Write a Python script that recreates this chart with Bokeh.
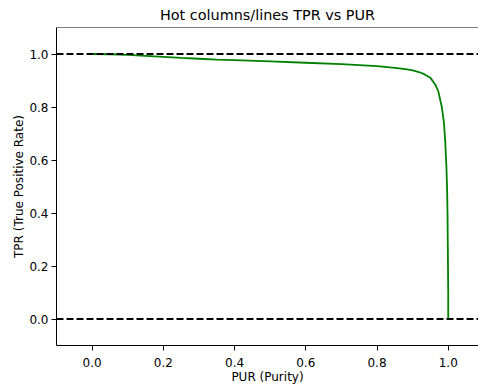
from bokeh.plotting import figure
from bokeh.models import Span, Range1d, FixedTicker
from bokeh.embed import file_html
from bokeh.resources import INLINE

# Data
pur = [0.0, 0.05, 0.10, 0.15, 0.20, 0.25, 0.30, 0.35, 0.40, 0.50, 0.60,
       0.70, 0.80, 0.85, 0.88, 0.90, 0.92, 0.935, 0.95, 0.963, 0.972, 0.982,
       0.988, 0.992, 0.995, 0.997, 0.998, 0.999, 1.0, 1.0]
tpr = [1.0, 0.999, 0.997, 0.993, 0.989, 0.985, 0.982, 0.979, 0.977, 0.972,
       0.967, 0.962, 0.954, 0.948, 0.943, 0.938, 0.931, 0.922, 0.910, 0.886,
       0.860, 0.800, 0.740, 0.660, 0.570, 0.480, 0.400, 0.250, 0.100, 0.0]
ref_lines = [0.0, 1.0]
x_ticks = [0.0, 0.2, 0.4, 0.6, 0.8, 1.0]
y_ticks = [0.0, 0.2, 0.4, 0.6, 0.8, 1.0]
x_min, x_max = -0.1, 1.085
y_min, y_max = -0.1, 1.1

FONT = "DejaVu Sans"

p = figure(width=478, height=388, output_backend="svg", toolbar_location=None,
           x_range=Range1d(x_min, x_max), y_range=Range1d(y_min, y_max),
           title="Hot columns/lines TPR vs PUR",
           min_border_left=56, min_border_right=0, min_border_bottom=43,
           min_border_top=0)

p.title.text_font = FONT
p.title.text_font_size = "14.4px"
p.title.text_font_style = "normal"
p.title.text_color = "black"
p.title.align = "center"
p.title.standoff = 9
p.title.offset = 0

p.outline_line_color = None
p.xgrid.visible = False
p.ygrid.visible = False
p.background_fill_color = "white"
p.border_fill_color = "white"

for ax in (p.xaxis[0], p.yaxis[0]):
    ax.axis_line_color = "black"
    ax.axis_line_width = 1
    ax.major_tick_out = 5
    ax.major_tick_in = 0
    ax.minor_tick_out = 0
    ax.minor_tick_in = 0
    ax.major_label_text_font = FONT
    ax.major_label_text_font_size = "12px"
    ax.major_label_text_color = "black"
    ax.major_label_text_line_height = 1.0
    ax.axis_label_text_font = FONT
    ax.axis_label_text_font_size = "12px"
    ax.axis_label_text_font_style = "normal"
    ax.axis_label_text_color = "black"
    ax.axis_label_text_line_height = 1.0

p.xaxis.ticker = FixedTicker(ticks=x_ticks)
p.yaxis.ticker = FixedTicker(ticks=y_ticks)
p.xaxis.major_label_overrides = {t: f"{t:.1f}" for t in x_ticks}
p.yaxis.major_label_overrides = {t: f"{t:.1f}" for t in y_ticks}
p.xaxis.axis_label = "PUR (Purity)"
p.yaxis.axis_label = "TPR (True Positive Rate)"
p.xaxis.major_label_standoff = 7
p.xaxis.axis_label_standoff = 0
p.yaxis.major_label_standoff = 3
p.yaxis.axis_label_standoff = 0

# top spine
p.add_layout(Span(location=y_max, dimension="width", line_color="black",
                  line_width=1))

for loc in ref_lines:
    p.add_layout(Span(location=loc, dimension="width", line_color="black",
                      line_width=1.8, line_dash="7 3"))

p.line(pur, tpr, line_color="green", line_width=1.8)

open("out.html", "w").write(file_html(p, INLINE))
